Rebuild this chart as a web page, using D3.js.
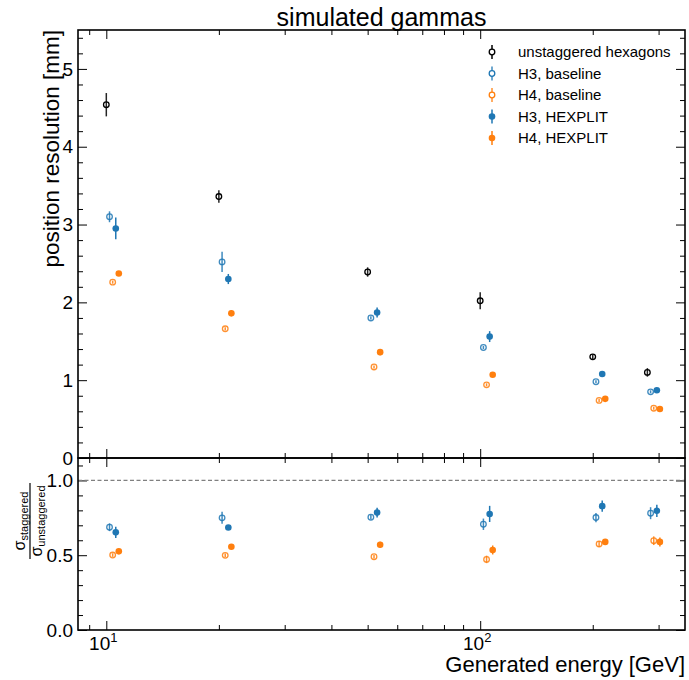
<!DOCTYPE html>
<html>
<head>
<meta charset="utf-8">
<script src="https://cdn.jsdelivr.net/npm/d3@7"></script>
<style>
  body { margin: 0; background: #fff; }
  svg { display: block; font-family: "Liberation Sans", Arial, Helvetica, sans-serif; }
</style>
</head>
<body>
<svg id="chart" width="689" height="680"></svg>
<script>
// ---------------- DATA ----------------
const energies = [10, 20, 50, 100, 200, 280];

const seriesNames = ["unstaggered hexagons", "H3, baseline", "H4, baseline", "H3, HEXPLIT", "H4, HEXPLIT"];

// main panel: position resolution [mm]
const unstaggered    = [4.54, 3.36, 2.39, 2.02, 1.30, 1.10];
const unstaggeredErr = [0.15, 0.08, 0.06, 0.11, 0.03, 0.055];
const h3Baseline     = [3.10, 2.52, 1.80, 1.42, 0.98, 0.85];
const h3BaselineErr  = [0.07, 0.13, 0.02, 0.02, 0.02, 0.02];
const h4Baseline     = [2.26, 1.66, 1.17, 0.94, 0.74, 0.64];
const h4BaselineErr  = [0.02, 0.02, 0.02, 0.02, 0.02, 0.02];
const h3Hexplit      = [2.95, 2.30, 1.87, 1.56, 1.08, 0.87];
const h3HexplitErr   = [0.14, 0.065, 0.065, 0.07, 0.02, 0.02];
const h4Hexplit      = [2.37, 1.86, 1.36, 1.07, 0.76, 0.63];
const h4HexplitErr   = [0.02, 0.04, 0.04, 0.02, 0.02, 0.02];

// ratio panel: sigma_staggered / sigma_unstaggered
const h3BaselineRatio    = [0.687, 0.750, 0.754, 0.707, 0.752, 0.781];
const h3BaselineRatioErr = [0.026, 0.040, 0.015, 0.038, 0.031, 0.040];
const h4BaselineRatio    = [0.501, 0.499, 0.490, 0.472, 0.575, 0.597];
const h4BaselineRatioErr = [0.012, 0.012, 0.012, 0.025, 0.020, 0.029];
const h3HexplitRatio     = [0.653, 0.685, 0.785, 0.776, 0.828, 0.797];
const h3HexplitRatioErr  = [0.038, 0.015, 0.033, 0.054, 0.038, 0.041];
const h4HexplitRatio     = [0.526, 0.557, 0.570, 0.535, 0.589, 0.589];
const h4HexplitRatioErr  = [0.012, 0.012, 0.020, 0.030, 0.015, 0.030];

const mainYTicks  = [0, 1, 2, 3, 4, 5];
const ratioYTicks = [0.0, 0.5, 1.0];
const xMajorTicks = [10, 100];

// ---------------- STYLE ----------------
const styles = [
  { color: "#000000", filled: false, shift: 1.00 },
  { color: "#1f77b4", filled: false, shift: 1.02 },
  { color: "#ff7f0e", filled: false, shift: 1.04 },
  { color: "#1f77b4", filled: true,  shift: 1.06 },
  { color: "#ff7f0e", filled: true,  shift: 1.08 }
];

const L = 78, R = 685, T = 30, MB = 458, RB = 630;

const svg = d3.select("#chart");

const x = d3.scaleLog().domain([8.4, 353]).range([L, R]);
const yMain = d3.scaleLinear().domain([0, 5.5]).range([MB, T]);
const yRatio = d3.scaleLinear().domain([0, 1.15]).range([RB, MB]);

const xMinor = [9];
[10, 100].forEach(d => { for (let k = 2; k < 10; k++) { const v = d * k; if (v < 353) xMinor.push(v); } });

function range(a, b, s) { const r = []; for (let v = a; v <= b + 1e-9; v += s) r.push(+v.toFixed(4)); return r; }
const mainYMinor = range(0, 5.4, 0.2).filter(v => Math.abs(v - Math.round(v)) > 1e-6);
const ratioYMinor = range(0, 1.1, 0.1).filter(v => Math.abs(v * 2 - Math.round(v * 2)) > 1e-6);

const MAJ = 9, MIN = 5;

function noDomain(g) { g.select(".domain").remove(); g.selectAll(".tick line").attr("stroke", "#000").attr("stroke-width", 1); }

function yAxes(yScale, major, minor, fmt) {
  svg.append("g").attr("transform", `translate(${L},0)`)
    .call(d3.axisLeft(yScale).tickValues(major).tickSize(-MAJ).tickPadding(5).tickFormat(fmt))
    .call(noDomain)
    .call(g => g.selectAll("text").attr("font-size", 19).attr("fill", "#000").attr("font-family", "Liberation Sans, Arial, sans-serif"));
  svg.append("g").attr("transform", `translate(${L},0)`)
    .call(d3.axisLeft(yScale).tickValues(minor).tickSize(-MIN).tickFormat(""))
    .call(noDomain);
  svg.append("g").attr("transform", `translate(${R},0)`)
    .call(d3.axisRight(yScale).tickValues(major).tickSize(-MAJ).tickFormat(""))
    .call(noDomain);
  svg.append("g").attr("transform", `translate(${R},0)`)
    .call(d3.axisRight(yScale).tickValues(minor).tickSize(-MIN).tickFormat(""))
    .call(noDomain);
}
yAxes(yMain, mainYTicks, mainYMinor, d3.format("d"));
yAxes(yRatio, ratioYTicks, ratioYMinor, d3.format(".1f"));

function xTicksAt(yPos, dir) {
  const mk = dir === "down" ? d3.axisTop : d3.axisBottom;
  svg.append("g").attr("transform", `translate(0,${yPos})`)
    .call(mk(x).tickValues(xMajorTicks).tickSize(-MAJ).tickFormat(""))
    .call(noDomain);
  svg.append("g").attr("transform", `translate(0,${yPos})`)
    .call(mk(x).tickValues(xMinor).tickSize(-MIN).tickFormat(""))
    .call(noDomain);
}
xTicksAt(T, "down");
xTicksAt(MB, "up");
xTicksAt(MB, "down");
xTicksAt(RB, "up");

// X tick labels 10^n
const xl = svg.append("g");
xMajorTicks.forEach(v => {
  const t = xl.append("text").attr("x", x(v) - 3).attr("y", RB + 20)
    .attr("text-anchor", "middle").attr("font-size", 19).attr("fill", "#000");
  t.append("tspan").text("10");
  t.append("tspan").attr("font-size", 13).attr("dy", -8).text(Math.round(Math.log10(v)));
});

// dashed reference line
svg.append("line").attr("x1", L).attr("x2", R).attr("y1", yRatio(1)).attr("y2", yRatio(1))
  .attr("stroke", "#808080").attr("stroke-width", 1.2).attr("stroke-dasharray", "4,2.5");

// frames
svg.append("rect").attr("x", L).attr("y", T).attr("width", R - L).attr("height", MB - T)
  .attr("fill", "none").attr("stroke", "#000").attr("stroke-width", 1.6);
svg.append("rect").attr("x", L).attr("y", MB).attr("width", R - L).attr("height", RB - MB)
  .attr("fill", "none").attr("stroke", "#000").attr("stroke-width", 1.6);

// points
function drawSeries(yScale, vals, errs, st) {
  const g = svg.append("g");
  energies.forEach((e, i) => {
    const cx = x(e * st.shift);
    const cy = yScale(vals[i]);
    g.append("line").attr("x1", cx).attr("x2", cx)
      .attr("y1", yScale(vals[i] - errs[i])).attr("y2", yScale(vals[i] + errs[i]))
      .attr("stroke", st.color).attr("stroke-width", 1.5).attr("opacity", st.filled ? 1 : 0.85);
    if (st.filled) {
      g.append("circle").attr("cx", cx).attr("cy", cy).attr("r", 3.3).attr("fill", st.color);
    } else {
      g.append("circle").attr("cx", cx).attr("cy", cy).attr("r", 2.8)
        .attr("fill", "none").attr("stroke", st.color).attr("stroke-width", 1.3).attr("opacity", st.color === "#000000" ? 1 : 0.85);
    }
  });
}
const mainVals = [unstaggered, h3Baseline, h4Baseline, h3Hexplit, h4Hexplit];
const mainErrs = [unstaggeredErr, h3BaselineErr, h4BaselineErr, h3HexplitErr, h4HexplitErr];
mainVals.forEach((v, k) => drawSeries(yMain, v, mainErrs[k], styles[k]));

const ratioVals = [null, h3BaselineRatio, h4BaselineRatio, h3HexplitRatio, h4HexplitRatio];
const ratioErrs = [null, h3BaselineRatioErr, h4BaselineRatioErr, h3HexplitRatioErr, h4HexplitRatioErr];
ratioVals.forEach((v, k) => { if (v) drawSeries(yRatio, v, ratioErrs[k], styles[k]); });

// legend
const lg = svg.append("g");
seriesNames.forEach((name, k) => {
  const st = styles[k];
  const ly = 52 + k * 21.5;
  const lx = 492;
  lg.append("line").attr("x1", lx).attr("x2", lx).attr("y1", ly - 7).attr("y2", ly + 7)
    .attr("stroke", st.color).attr("stroke-width", 1.5).attr("opacity", st.filled || k === 0 ? 1 : 0.85);
  if (st.filled) lg.append("circle").attr("cx", lx).attr("cy", ly).attr("r", 3.3).attr("fill", st.color);
  else lg.append("circle").attr("cx", lx).attr("cy", ly).attr("r", 2.8).attr("fill", "#fff")
    .attr("stroke", st.color).attr("stroke-width", 1.3);
  lg.append("text").attr("x", 518).attr("y", ly + 5).attr("font-size", 15).attr("fill", "#000").text(name);
});

// titles / labels
svg.append("text").attr("x", (L + R) / 2).attr("y", 26).attr("text-anchor", "middle")
  .attr("font-size", 25).attr("fill", "#000").text("simulated gammas");

svg.append("text").attr("transform", `translate(59,${T}) rotate(-90)`).attr("text-anchor", "end")
  .attr("font-size", 22.5).attr("fill", "#000").text("position resolution [mm]");

svg.append("text").attr("x", R).attr("y", 672).attr("text-anchor", "end")
  .attr("font-size", 22).attr("fill", "#000").text("Generated energy [GeV]");

// ratio y label as fraction
const fr = svg.append("g").attr("transform", `translate(30,521) rotate(-90)`);
const num = fr.append("text").attr("x", 0).attr("y", -5).attr("text-anchor", "middle").attr("fill", "#000");
num.append("tspan").attr("font-size", 16).text("σ");
num.append("tspan").attr("font-size", 11).attr("dy", 3).text("staggered");
const den = fr.append("text").attr("x", 0).attr("y", 12).attr("text-anchor", "middle").attr("fill", "#000");
den.append("tspan").attr("font-size", 16).text("σ");
den.append("tspan").attr("font-size", 11).attr("dy", 3).text("unstaggered");
fr.append("line").attr("x1", -38).attr("x2", 38).attr("y1", 0).attr("y2", 0).attr("stroke", "#000").attr("stroke-width", 1.2);
</script>
</body>
</html>
